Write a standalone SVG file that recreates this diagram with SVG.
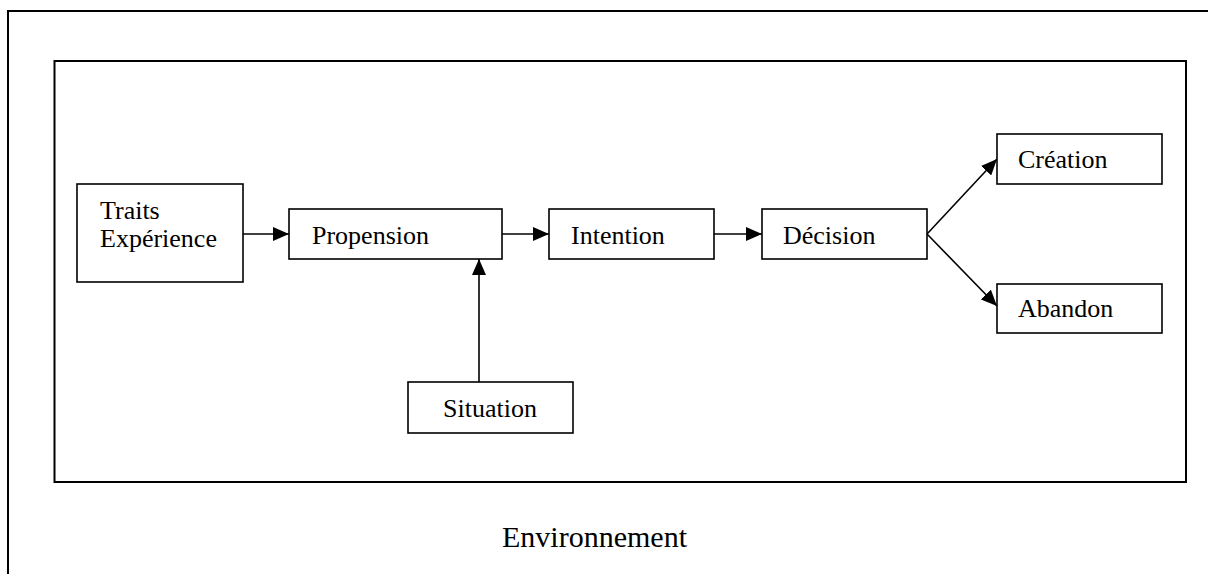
<svg xmlns="http://www.w3.org/2000/svg" width="1208" height="574" viewBox="0 0 1208 574">
  <style>
    .box { fill: #ffffff; stroke: #000000; stroke-width: 1.6; }
    .frame { fill: none; stroke: #000000; stroke-width: 2; }
    .lbl { font-family: "Liberation Serif", "Times New Roman", serif; font-size: 26px; fill: #000000; }
    .env { font-family: "Liberation Serif", "Times New Roman", serif; font-size: 30px; fill: #000000; }
    .conn { stroke: #000000; stroke-width: 1.6; fill: none; marker-end: url(#arrow); }
  </style>
  <defs>
    <marker id="arrow" markerUnits="userSpaceOnUse" markerWidth="16" markerHeight="14" refX="16" refY="7" orient="auto">
      <polygon points="0,0 16,7 0,14" fill="#000000"/>
    </marker>
  </defs>

  <rect width="1208" height="574" fill="#ffffff"/>

  <!-- outer frame: open towards the right and bottom -->
  <path class="frame" d="M1208 11 H8 V574"/>
  <!-- inner frame -->
  <rect class="frame" x="54.5" y="61" width="1131.5" height="421"/>

  <g id="connectors">
    <line class="conn" x1="243" y1="234" x2="289" y2="234"/>
    <line class="conn" x1="502" y1="234" x2="549" y2="234"/>
    <line class="conn" x1="714" y1="234" x2="762" y2="234"/>
    <line class="conn" x1="927" y1="234" x2="997" y2="159"/>
    <line class="conn" x1="927" y1="234" x2="997" y2="306"/>
    <line class="conn" x1="479" y1="382" x2="479" y2="259"/>
  </g>

  <g id="traits">
    <rect class="box" x="77" y="184" width="166" height="98"/>
    <text class="lbl" x="100" y="219">Traits</text>
    <text class="lbl" x="100" y="247">Expérience</text>
  </g>
  <g id="propension">
    <rect class="box" x="289" y="209" width="213" height="50"/>
    <text class="lbl" x="312" y="244">Propension</text>
  </g>
  <g id="intention">
    <rect class="box" x="549" y="209" width="165" height="50"/>
    <text class="lbl" x="571" y="244">Intention</text>
  </g>
  <g id="decision">
    <rect class="box" x="762" y="209" width="165" height="50"/>
    <text class="lbl" x="783" y="244">Décision</text>
  </g>
  <g id="creation">
    <rect class="box" x="997" y="134" width="165" height="50"/>
    <text class="lbl" x="1018" y="168">Création</text>
  </g>
  <g id="abandon">
    <rect class="box" x="997" y="284" width="165" height="49"/>
    <text class="lbl" x="1018" y="317">Abandon</text>
  </g>
  <g id="situation">
    <rect class="box" x="408" y="382" width="165" height="51"/>
    <text class="lbl" x="443" y="417">Situation</text>
  </g>

  <text class="env" x="687" y="547" text-anchor="end">Environnement</text>
</svg>
